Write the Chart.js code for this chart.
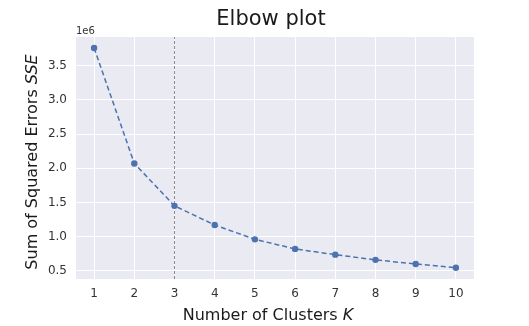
<!DOCTYPE html>
<html><head><meta charset="utf-8">
<script src="https://cdn.jsdelivr.net/npm/chart.js@4"></script>
<style>html,body{margin:0;padding:0;background:#fff;}#wrap{width:529px;height:326px;}</style>
</head><body><div id="wrap"><canvas id="c" width="529" height="326"></canvas></div>
<script>
const clusters = [1,2,3,4,5,6,7,8,9,10];
const sse = [3760000, 2070000, 1450000, 1170000, 960000, 820000, 736000, 660000, 600000, 545000];
const yTicks = [500000,1000000,1500000,2000000,2500000,3000000,3500000];
const elbowK = 3;
const xMin = 0.55, xMax = 10.45, yMin = 380000, yMax = 3920000;

const FONT = "'DejaVu Sans', sans-serif";
const textPlugin = {
  id:'texts',
  afterDraw(chart){
    const ctx = chart.ctx, a = chart.chartArea;
    ctx.save();
    ctx.fillStyle = '#1a1a1a';
    ctx.textBaseline = 'alphabetic';
    // title
    ctx.font = "21px " + FONT; ctx.textAlign='center';
    ctx.fillText('Elbow plot', 271, 25);
    // 1e6
    ctx.textBaseline = 'middle';
    ctx.font = "10px " + FONT; ctx.fillStyle='#333'; ctx.textAlign='left';
    ctx.fillText('1e6', a.left, 31);
    ctx.textBaseline = 'alphabetic';
    function mixed(parts, cx, cy){
      let w=0;
      parts.forEach(p=>{ctx.font=p[1]; w+=ctx.measureText(p[0]).width;});
      let x=cx-w/2;
      ctx.textAlign='left';
      parts.forEach(p=>{ctx.font=p[1]; ctx.fillText(p[0], x, cy); x+=ctx.measureText(p[0]).width;});
    }
    ctx.fillStyle='#1a1a1a';
    mixed([['Number of Clusters ', "16px "+FONT],['K', "italic 16px "+FONT]], 268, 320);
    ctx.translate(37,162); ctx.rotate(-Math.PI/2);
    mixed([['Sum of Squared Errors ', "16px "+FONT],['SSE', "italic 16px "+FONT]], 0, 0);
    ctx.restore();
  }
};
const bgPlugin = {
  id:'bg',
  beforeDraw(chart){
    const ctx=chart.ctx,a=chart.chartArea;
    ctx.save(); ctx.fillStyle='#EAEAF2'; ctx.fillRect(a.left,a.top,a.right-a.left,a.bottom-a.top); ctx.restore();
  }
};

new Chart(document.getElementById('c'), {
  type:'line',
  data:{datasets:[
    {data:[{x:elbowK,y:yMin},{x:elbowK,y:yMax}], borderColor:'#8a8a8a', borderWidth:1, borderDash:[3,2], pointRadius:0, order:2},
    {data:clusters.map((k,i)=>({x:k,y:sse[i]})), borderColor:'#4C72B0', backgroundColor:'#4C72B0', borderWidth:1.5, borderDash:[5,3], pointRadius:3.2, pointBorderWidth:0, order:1}
  ]},
  options:{
    responsive:false, animation:false, devicePixelRatio:1,
    layout:{padding:{left:0,right:55,top:37,bottom:0}},
    plugins:{legend:{display:false}, tooltip:{enabled:false}},
    scales:{
      x:{type:'linear', min:xMin, max:xMax,
        afterBuildTicks(s){s.ticks=clusters.map(v=>({value:v}));},
        afterFit(s){s.height=326-279;},
        grid:{color:'#ffffff', lineWidth:1, drawTicks:false},
        border:{display:false},
        ticks:{padding:8, color:'#333', font:{family:FONT,size:12}, callback:v=>String(v), maxRotation:0, autoSkip:false}
      },
      y:{type:'linear', min:yMin, max:yMax,
        afterBuildTicks(s){s.ticks=yTicks.map(v=>({value:v}));},
        afterFit(s){s.width=76;},
        grid:{color:'#ffffff', lineWidth:1, drawTicks:false},
        border:{display:false},
        ticks:{padding:9, color:'#333', font:{family:FONT,size:12}, callback:v=>(v/1e6).toFixed(1), autoSkip:false}
      }
    }
  },
  plugins:[bgPlugin,textPlugin]
});
</script></body></html>
